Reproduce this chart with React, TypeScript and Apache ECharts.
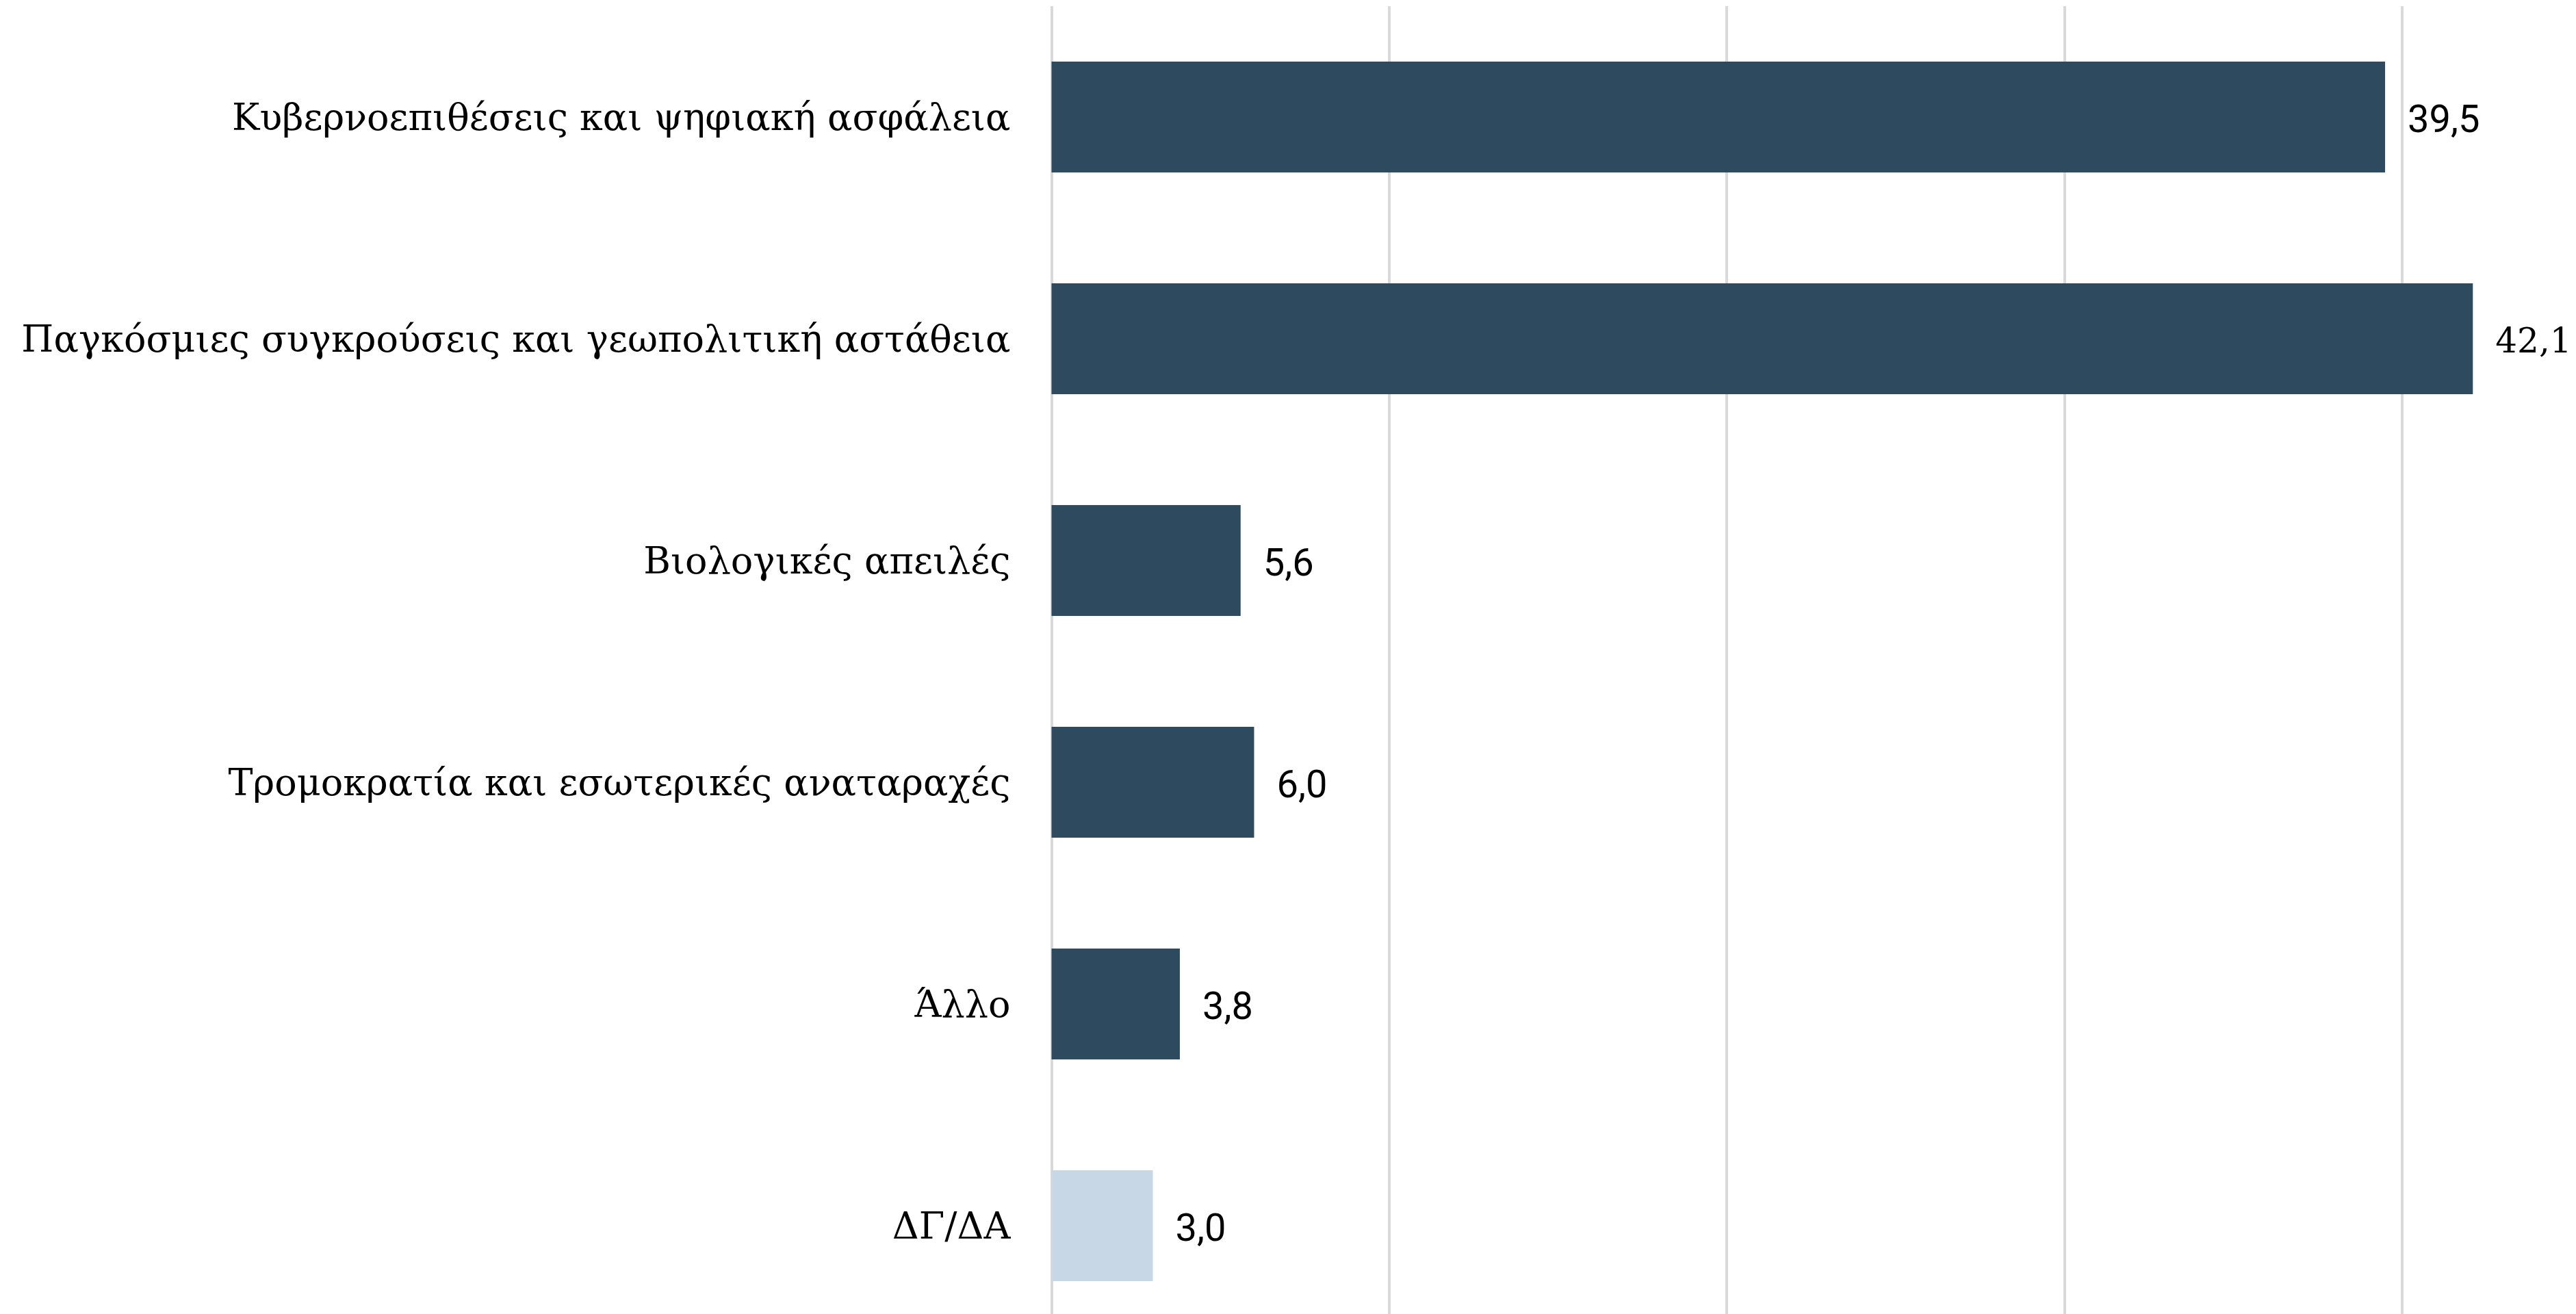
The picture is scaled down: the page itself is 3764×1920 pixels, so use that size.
import React, { useEffect, useRef } from "react";
import * as echarts from "echarts";

const categories = [
  "Κυβερνοεπιθέσεις και ψηφιακή ασφάλεια",
  "Παγκόσμιες συγκρούσεις και γεωπολιτική αστάθεια",
  "Βιολογικές απειλές",
  "Τρομοκρατία και εσωτερικές αναταραχές",
  "Άλλο",
  "ΔΓ/ΔΑ",
];
const values = [39.5, 42.1, 5.6, 6.0, 3.8, 3.0];
const barColors = ["#2d4a5f", "#2d4a5f", "#2d4a5f", "#2d4a5f", "#2d4a5f", "#c8d7e5"];
const axisMin = 0;
const axisMax = 50;
const axisInterval = 10;

const SERIF = "'DejaVu Serif', serif";
const SANS = "Roboto, 'Noto Sans', sans-serif";

export default function App() {
  const ref = useRef<HTMLDivElement>(null);
  useEffect(() => {
    document.body.style.margin = "0";
    document.body.style.overflow = "hidden";
    document.documentElement.style.overflow = "hidden";
    if (!ref.current) return;
    const chart = echarts.init(ref.current, null, { renderer: "svg" });
    chart.setOption({
      animation: false,
      backgroundColor: "#ffffff",
      grid: { left: 1536.5, right: 7, top: 9, bottom: 7, containLabel: false },
      xAxis: {
        type: "value",
        min: axisMin,
        max: axisMax,
        interval: axisInterval,
        axisLabel: { show: false },
        axisLine: { show: false },
        axisTick: { show: false },
        splitLine: { show: true, lineStyle: { color: "#d9d9d9", width: 4 } },
      },
      yAxis: {
        type: "category",
        inverse: true,
        data: categories,
        axisLine: { show: false },
        axisTick: { show: false },
        axisLabel: {
          margin: 60,
          color: "#000000",
          fontFamily: SERIF,
          fontSize: 54,
        },
      },
      series: [
        {
          type: "bar",
          barWidth: "50%",
          data: values.map((v, i) => ({
            value: v,
            itemStyle: { color: barColors[i] },
            label: i === 1 ? { fontFamily: SERIF, fontSize: 50 } : undefined,
          })),
          label: {
            show: true,
            position: "right",
            distance: 33,
            offset: [0, 3],
            color: "#000000",
            fontFamily: SANS,
            fontSize: 56,
            formatter: (p: any) => Number(p.value).toFixed(1).replace(".", ","),
          },
        },
      ],
    });
    return () => chart.dispose();
  }, []);
  return (
    <div style={{ width: 3764, height: 1920, overflow: "hidden", position: "relative", background: "#ffffff" }}>
      <div ref={ref} style={{ width: 4010, height: 1960 }} />
    </div>
  );
}
